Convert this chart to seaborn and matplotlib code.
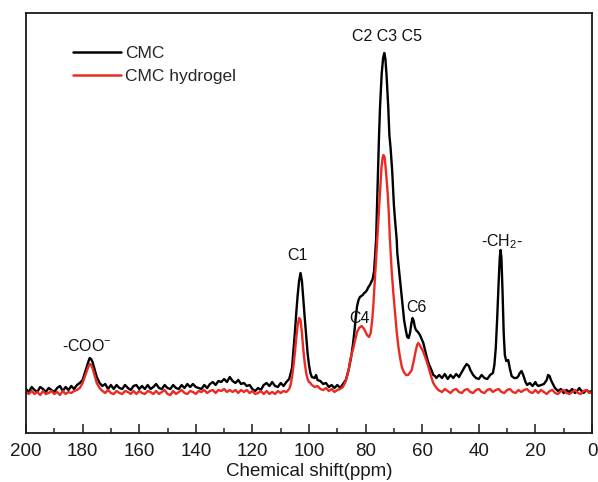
import matplotlib
matplotlib.use("Agg")
import matplotlib.pyplot as plt
import seaborn as sns
import pandas as pd
from matplotlib.ticker import MultipleLocator

# ---------------- data ----------------
cmc_shift = [200, 199, 198, 197, 196, 195, 194, 193, 192, 191, 190, 189, 188, 187, 186, 185, 184, 183, 182, 181,
             180, 179, 178, 177.5, 177, 176.5, 176, 175, 174, 173, 172, 171, 170, 169, 168, 167, 166, 165, 164, 163,
             162, 161, 160, 159, 158, 157, 156, 155, 154, 153, 152, 151, 150, 149, 148, 147, 146, 145, 144, 143,
             142, 141, 140, 139, 138, 137, 136, 135, 134, 133, 132, 131, 130, 129, 128, 127, 126, 125, 124, 123,
             122, 121, 120, 119, 118, 117, 116, 115, 114, 113, 112, 111, 110, 109, 108, 107, 106, 105, 104.5, 104,
             103.5, 103, 102.5, 102, 101.5, 101, 100.5, 100, 99.5, 99, 98, 97.5, 97, 96, 95, 94, 93, 92, 91, 90,
             89, 88, 87, 86.5, 86, 85.5, 85, 84.5, 84, 83.5, 83, 82.5, 82, 81, 80.5, 80, 79.5, 79, 78.5, 78,
             77.5, 77, 76.7, 76.3, 75.8, 75.3, 74.9, 74.3, 73.8, 73.4, 73.0, 72.6, 72.0, 71.6, 71.2, 70.6, 70.0, 69.6,
             69.0, 68.8, 68.2, 67.6, 67.0, 66.4, 65.8, 65.3, 64.8, 64.3, 63.8, 63.4, 63.0, 62.6, 62.2, 61.5, 60.8, 60.2,
             59.6, 59.0, 58.4, 57.8, 57.2, 56.6, 56.1, 55.5, 55, 54, 53, 52, 51, 50, 49, 48, 47, 46,
             45, 44.3, 43.5, 43, 42, 41, 40, 39, 38, 37, 36, 35, 34.5, 34, 33.5, 33, 32.6, 32.3, 32.0, 31.6,
             31.2, 30.8, 30.3, 29.6, 29.0, 28.4, 27.5, 26.6, 26, 25.5, 24.9, 24.3, 23.5, 22.9, 22, 21, 20, 19.7, 19, 18,
             17, 16, 15.5, 15, 14.5, 14, 13.1, 12, 11, 10, 9, 8, 7, 6, 5, 4.5, 4, 3, 2, 1, 0]
cmc_signal = [44, 41, 46, 43, 41, 46, 44, 41, 45, 43, 41, 45, 47, 42, 46, 43, 47, 44, 48, 50,
              53, 62, 71, 75, 74, 71, 66, 56, 50, 47, 49, 44, 48, 44, 48, 45, 44, 48, 45, 43,
              47, 48, 44, 47, 44, 48, 44, 46, 49, 45, 44, 48, 45, 44, 48, 45, 44, 48, 45, 49,
              46, 49, 46, 45, 44, 48, 45, 49, 51, 48, 52, 51, 54, 51, 56, 52, 50, 53, 49, 50,
              47, 48, 44, 42, 45, 43, 48, 50, 47, 51, 47, 46, 50, 47, 51, 54, 65, 100, 120, 138,
              152, 160, 152, 133, 115, 98, 80, 68, 60, 56, 55, 58, 53, 52, 49, 50, 46, 48, 45, 48,
              45, 49, 53, 58, 63, 70, 78, 88, 100, 115, 127, 133, 136, 138, 140, 141, 143, 146, 148, 151,
              154, 162, 175, 193, 245, 293, 326, 360, 375, 380, 374, 358, 326, 298, 286, 262, 228, 213,
              193, 180, 163, 146, 128, 113, 103, 96, 95, 100, 110, 115, 112, 106, 103, 101, 98, 94,
              90, 83, 76, 70, 66, 62, 58, 57, 55, 58, 55, 59, 54, 58, 55, 59, 56, 61,
              66, 69, 67, 63, 58, 55, 54, 58, 55, 54, 58, 60, 68, 85, 115, 150, 175, 183, 175, 140,
              100, 78, 72, 73, 64, 57, 55, 55, 57, 60, 62, 58, 51, 48, 50, 47, 51, 49, 47, 48,
              49, 53, 58, 57, 53, 50, 45, 42, 44, 40, 43, 41, 44, 40, 43, 45, 43, 40, 43, 41, 42]

gel_shift = [200, 199, 198, 197, 196, 195, 194, 193, 192, 191, 190, 189, 188, 187, 186, 185, 184, 183, 182, 181,
             180, 179, 178, 177.5, 177, 176.5, 176, 175, 174, 173, 172, 171, 170, 169, 168, 167, 166, 165, 164, 163,
             162, 161, 160, 159, 158, 157, 156, 155, 154, 153, 152, 151, 150, 149, 148, 147, 146, 145, 144, 143,
             142, 141, 140, 139, 138, 137, 136, 135, 134, 133, 132, 131, 130, 129, 128, 127, 126, 125, 124, 123,
             122, 121, 120, 119, 118, 117, 116, 115, 114, 113, 112, 111, 110, 109, 108, 107, 106.5, 106, 105.5, 105,
             104.5, 104, 103.5, 103, 102.5, 102, 101.5, 101, 100.5, 100, 99.5, 99, 98, 97, 96, 95, 94, 93, 92, 91,
             90, 89, 88, 87, 86.5, 86, 85.5, 85, 84.4, 83.7, 83, 82.3, 81.4, 80.5, 79.5, 78.8, 78.2, 77.7, 77.3, 76.8,
             76.3, 75.9, 75.4, 74.9, 74.4, 74.0, 73.7, 73.3, 72.9, 72.5, 72.2, 71.8, 71.4, 70.8, 70.2, 69.6, 69.0, 68.4,
             67.8, 67.2, 66.5, 65.7, 65.0, 64.4, 63.7, 63.0, 62.3, 61.8, 61.4, 60.9, 60.3, 59.6, 58.7, 57.8, 57, 56.1,
             55.2, 54.3, 53, 52, 51, 50, 49, 48, 47, 46, 45, 44, 43, 42, 41, 40, 39, 38, 37, 36,
             35, 34, 33, 32, 31, 30, 29, 28, 27, 26, 25, 24, 23, 22, 21, 20, 19, 18, 17, 16,
             15, 14, 13, 12, 11, 10, 9, 8, 7, 6, 5, 4, 3, 2, 1, 0]
gel_signal = [41, 39, 42, 39, 41, 38, 42, 39, 40, 42, 39, 41, 38, 42, 39, 41, 40, 42, 43, 45,
              50, 58, 66, 69, 68, 65, 60, 50, 45, 42, 40, 43, 40, 39, 42, 40, 39, 42, 41, 39,
              42, 39, 42, 40, 39, 42, 41, 39, 42, 39, 41, 43, 39, 38, 42, 39, 41, 43, 40, 39,
              42, 41, 39, 42, 41, 43, 40, 42, 43, 40, 43, 42, 44, 41, 43, 41, 43, 40, 43, 41,
              43, 40, 42, 39, 40, 42, 39, 42, 39, 41, 39, 42, 40, 42, 41, 44, 48, 56, 67, 80,
              95, 108, 115, 113, 100, 83, 70, 60, 54, 51, 50, 48, 46, 47, 44, 43, 45, 42, 44, 41,
              43, 44, 46, 52, 57, 63, 72, 78, 84, 93, 101, 105, 107, 104, 98, 96, 100, 112, 126, 150,
              175, 193, 218, 243, 265, 275, 278, 276, 265, 250, 240, 220, 193, 163, 140, 120, 101, 86,
              75, 66, 61, 58, 58, 60, 63, 72, 82, 88, 90, 88, 85, 81, 74, 66, 58, 50,
              46, 43, 41, 44, 42, 40, 43, 44, 41, 40, 43, 44, 41, 40, 43, 44, 41, 40, 43, 44,
              41, 43, 44, 41, 40, 43, 44, 41, 40, 43, 41, 43, 44, 41, 40, 43, 40, 43, 41, 39,
              42, 43, 40, 39, 42, 43, 40, 39, 41, 43, 40, 39, 42, 43, 40, 41]

series_names = ["CMC", "CMC hydrogel"]
series_colors = ["#000000", "#ec2a24"]

peak_labels = ["C2 C3 C5", "C1", "C4", "C6", "-CH$_2$-", "-COO$^{-}$"]
peak_label_x = [72.3, 104.2, 82.1, 62.1, 31.9, 178.4]
peak_label_y = [392, 173, 110, 121, 187, 82]

x_ticks = list(range(0, 201, 20))

# ---------------- plotting ----------------
sns.set_style("ticks")
plt.rcParams["font.family"] = ["Liberation Sans", "DejaVu Sans"]
plt.rcParams["mathtext.fontset"] = "custom"
plt.rcParams["mathtext.rm"] = "Liberation Sans"
plt.rcParams["mathtext.it"] = "Liberation Sans:italic"
plt.rcParams["mathtext.bf"] = "Liberation Sans:bold"

df = pd.concat([
    pd.DataFrame({"shift": cmc_shift, "signal": cmc_signal, "sample": series_names[0]}),
    pd.DataFrame({"shift": gel_shift, "signal": gel_signal, "sample": series_names[1]}),
], ignore_index=True)

fig = plt.figure(figsize=(5.98, 4.82), dpi=100)
ax = fig.add_axes([26 / 598, 49 / 482, 566 / 598, 420 / 482])

sns.lineplot(data=df, x="shift", y="signal", hue="sample", hue_order=series_names,
             palette=series_colors, sort=False, estimator=None, linewidth=1.7, ax=ax)

ax.set_xlim(200, 0)
ax.set_ylim(0, 420)
ax.set_yticks([])
ax.set_ylabel("")
ax.set_xticks(x_ticks)
ax.xaxis.set_minor_locator(MultipleLocator(10))
ax.tick_params(axis="x", which="major", direction="in", length=6.5, width=1.1,
               labelsize=13.5, pad=7, colors="#1a1a1a")
ax.tick_params(axis="x", which="minor", direction="in", length=3.5, width=1.1)
ax.set_xlabel("Chemical shift(ppm)", fontsize=13.5, labelpad=2.5, color="#1a1a1a")
for sp in ax.spines.values():
    sp.set_visible(True)
    sp.set_linewidth(1.3)
    sp.set_color("#1a1a1a")

for lab, lx, ly in zip(peak_labels, peak_label_x, peak_label_y):
    ax.text(lx, ly, lab, ha="center", va="baseline", fontsize=11.5, color="#111111")

leg = ax.legend(loc="upper left", bbox_to_anchor=(0.083, 0.922), frameon=False,
                borderpad=0, borderaxespad=0, handlelength=2.75, handletextpad=0.25,
                labelspacing=0.45, fontsize=12.5)
for line in leg.get_lines():
    line.set_linewidth(1.8)

fig.savefig("out.png", dpi=100)
